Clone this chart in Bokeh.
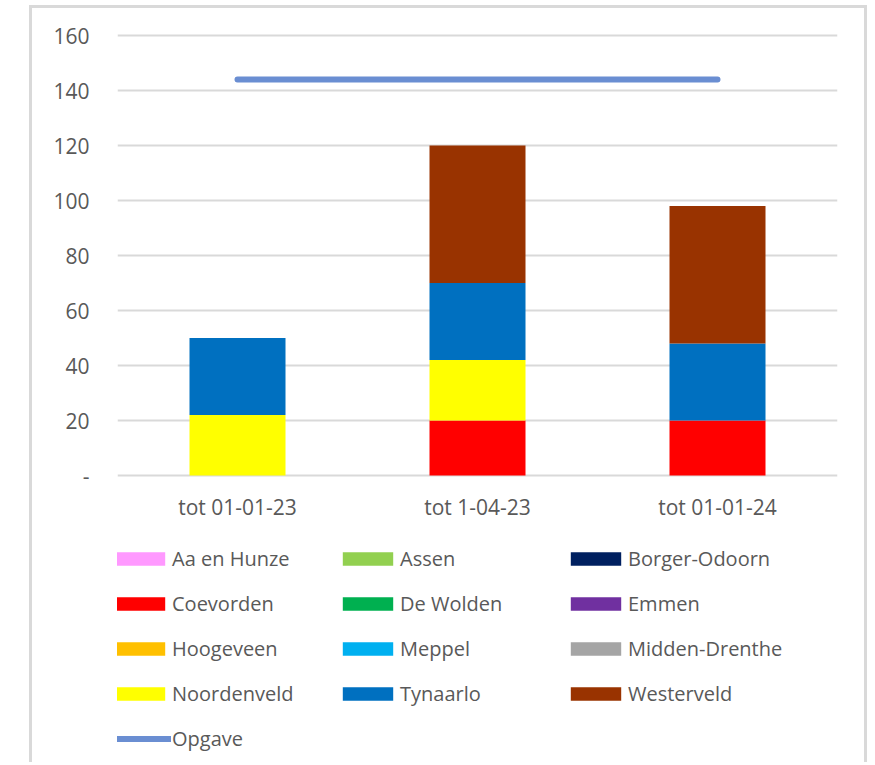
from bokeh.plotting import figure
from bokeh.models import FixedTicker, Legend, LegendItem
from bokeh.embed import file_html
from bokeh.resources import INLINE

categories = ["tot 01-01-23", "tot 1-04-23", "tot 01-01-24"]

aa_en_hunze = [0, 0, 0]
assen = [0, 0, 0]
borger_odoorn = [0, 0, 0]
coevorden = [0, 20, 20]
de_wolden = [0, 0, 0]
emmen = [0, 0, 0]
hoogeveen = [0, 0, 0]
meppel = [0, 0, 0]
midden_drenthe = [0, 0, 0]
noordenveld = [22, 22, 0]
tynaarlo = [28, 28, 28]
westerveld = [0, 50, 50]
opgave = [144, 144, 144]

series_names = ["Aa en Hunze", "Assen", "Borger-Odoorn", "Coevorden", "De Wolden", "Emmen",
                "Hoogeveen", "Meppel", "Midden-Drenthe", "Noordenveld", "Tynaarlo", "Westerveld"]
series_values = [aa_en_hunze, assen, borger_odoorn, coevorden, de_wolden, emmen,
                 hoogeveen, meppel, midden_drenthe, noordenveld, tynaarlo, westerveld]
colors = ["#FF99FF", "#92D050", "#002060", "#FF0000", "#00B050", "#7030A0",
          "#FFC000", "#00B0F0", "#A5A5A5", "#FFFF00", "#0070C0", "#993300"]
y_ticks = [0, 20, 40, 60, 80, 100, 120, 140, 160]

FONT = "Open Sans"
TXT = "#595959"

# layout: frame spans page y 32..765, value 0 sits at page y 475, 2.75 px per unit
PX = 2.75
y_lo = -(765 - 475) / PX
y_hi = (475 - 32) / PX

data = {"cat": categories}
keys = []
for i, vals in enumerate(series_values):
    k = f"s{i}"
    keys.append(k)
    data[k] = vals

p = figure(x_range=categories, y_range=(y_lo, y_hi), width=838, height=757,
           output_backend="svg", toolbar_location=None,
           min_border_left=85, min_border_right=33, min_border_top=24, min_border_bottom=0)
p.margin = (5, 0, 0, 29)
p.styles = {"border": "3px solid #d9d9d9", "border-bottom": "none", "box-sizing": "border-box"}

renderers = p.vbar_stack(keys, x="cat", width=0.4, color=colors, source=data, line_width=0)
line_r = p.line(x=categories, y=opgave, line_color="#6A8ED2", line_width=6, line_cap="round")

# category labels below the zero line
p.text(x=categories, y=0, text=categories, y_offset=31, text_align="center",
       text_baseline="middle", text_font={"value": FONT}, text_font_size="21px",
       text_color=TXT)

items = [LegendItem(label=n, renderers=[r]) for n, r in zip(series_names, renderers)]
items.append(LegendItem(label="Opgave", renderers=[line_r]))
legend = Legend(items=items, orientation="horizontal", ncols=3,
                glyph_width=63, glyph_height=17, label_standoff=1,
                label_width=146, label_height=27, spacing=18,
                label_text_font=FONT, label_text_font_size="20px", label_text_color=TXT,
                border_line_color=None, background_fill_alpha=0,
                margin=0, padding=0, location=(-9, 13))
p.add_layout(legend, "center")

p.outline_line_color = None
p.xgrid.grid_line_color = None
p.xaxis.visible = False
p.ygrid.grid_line_color = "#D9D9D9"
p.ygrid.grid_line_width = 2
p.ygrid.ticker = FixedTicker(ticks=y_ticks)
p.yaxis.ticker = FixedTicker(ticks=y_ticks)
p.yaxis.major_label_overrides = {0: "-"}
ax = p.yaxis[0]
ax.axis_line_color = None
ax.major_tick_line_color = None
ax.minor_tick_line_color = None
ax.major_tick_out = 0
ax.major_label_text_font = FONT
ax.major_label_text_font_size = "21px"
ax.major_label_text_color = TXT
ax.major_label_standoff = 28

open("out.html", "w").write(file_html(p, INLINE))
